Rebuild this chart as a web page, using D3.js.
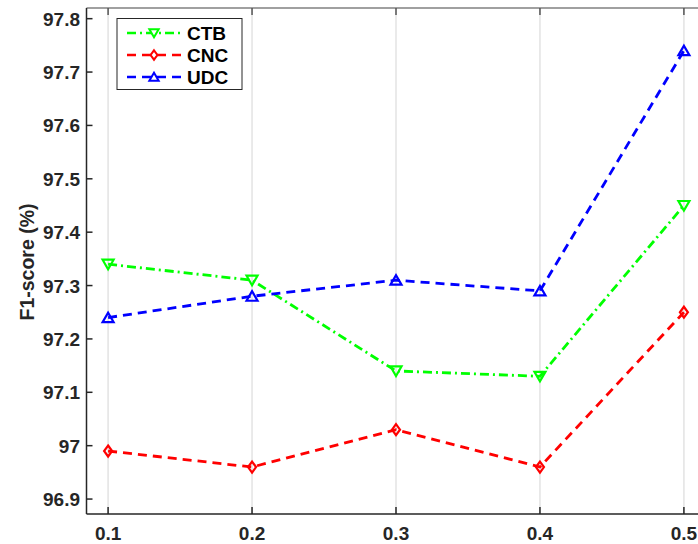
<!DOCTYPE html>
<html>
<head>
<meta charset="utf-8">
<script src="https://cdn.jsdelivr.net/npm/d3@7"></script>
<style>
body { margin: 0; background: #fff; }
text { font-family: Arial, "Liberation Sans", sans-serif; }
</style>
</head>
<body>
<div id="chart"></div>
<script>
// values
var xVals = [0.1, 0.2, 0.3, 0.4, 0.5]
var ctb = [97.34, 97.31, 97.14, 97.13, 97.45]
var cnc = [96.99, 96.96, 97.03, 96.96, 97.25]
var udc = [97.24, 97.28, 97.31, 97.29, 97.74]
var yTicks = [96.9, 97, 97.1, 97.2, 97.3, 97.4, 97.5, 97.6, 97.7, 97.8]
var seriesNames = ["CTB", "CNC", "UDC"]

var width = 698, height = 544
var pLeft = 86.5, pTop = 8, pRight = 705.5, pBottom = 514

var svg = d3.select("#chart").append("svg")
  .attr("width", width)
  .attr("height", height)

var x = d3.scaleLinear().domain([0.085, 0.515]).range([pLeft, pRight])
var y = d3.scaleLinear().domain([96.872, 97.82]).range([pBottom, pTop])

// vertical grid
svg.selectAll(".grid")
  .data(xVals)
  .join("line")
  .attr("x1", d => x(d)).attr("x2", d => x(d))
  .attr("y1", pTop).attr("y2", pBottom)
  .attr("stroke", "#e3e3e3")
  .attr("stroke-width", 1.5)

// axes box
svg.append("line").attr("x1", pLeft).attr("x2", pRight).attr("y1", pTop).attr("y2", pTop)
  .attr("stroke", "#808080").attr("stroke-width", 1.5)
svg.append("line").attr("x1", pLeft).attr("x2", pRight).attr("y1", pBottom).attr("y2", pBottom)
  .attr("stroke", "#262626").attr("stroke-width", 1.5)
svg.append("line").attr("x1", pLeft).attr("x2", pLeft).attr("y1", pTop).attr("y2", pBottom)
  .attr("stroke", "#262626").attr("stroke-width", 1.5)

// ticks (inward) top and bottom
svg.selectAll(".xtickB").data(xVals).join("line")
  .attr("x1", d => x(d)).attr("x2", d => x(d))
  .attr("y1", pBottom).attr("y2", pBottom - 7)
  .attr("stroke", "#262626").attr("stroke-width", 1.5)
svg.selectAll(".xtickT").data(xVals).join("line")
  .attr("x1", d => x(d)).attr("x2", d => x(d))
  .attr("y1", pTop).attr("y2", pTop + 7)
  .attr("stroke", "#555").attr("stroke-width", 1.5)
svg.selectAll(".ytick").data(yTicks).join("line")
  .attr("x1", pLeft).attr("x2", pLeft + 6)
  .attr("y1", d => y(d)).attr("y2", d => y(d))
  .attr("stroke", "#262626").attr("stroke-width", 1.5)

// tick labels
svg.selectAll(".xlab").data(xVals).join("text")
  .attr("x", d => x(d)).attr("y", 540)
  .attr("text-anchor", "middle")
  .style("font-size", "19px").style("font-weight", "bold")
  .attr("fill", "#262626")
  .text(d => d3.format(".1f")(d))
svg.selectAll(".ylab").data(yTicks).join("text")
  .attr("x", 80).attr("y", d => y(d) + 7)
  .attr("text-anchor", "end")
  .style("font-size", "19px").style("font-weight", "bold")
  .attr("fill", "#262626")
  .text(d => d === 97 ? "97" : d3.format(".1f")(d))

svg.append("text")
  .attr("transform", "translate(34,262) rotate(-90)")
  .attr("text-anchor", "middle")
  .style("font-size", "19.5px").style("font-weight", "bold")
  .attr("fill", "#262626")
  .text("F1-score (%)")

var styles = {
  CTB: {data: ctb, color: "#00ff00", dash: "9,4,2,4", marker: "down"},
  CNC: {data: cnc, color: "#ff0000", dash: "9,6", marker: "diamond"},
  UDC: {data: udc, color: "#0000ff", dash: "9,6", marker: "up"}
}

function markerPath(type, cx, cy, k) {
  k = k || 1
  if (type == "down") return "M" + (cx - 5.5 * k) + "," + (cy - 4.5 * k) + "L" + (cx + 5.5 * k) + "," + (cy - 4.5 * k) + "L" + cx + "," + (cy + 5 * k) + "Z"
  if (type == "up") return "M" + (cx - 5.5 * k) + "," + (cy + 4.5 * k) + "L" + (cx + 5.5 * k) + "," + (cy + 4.5 * k) + "L" + cx + "," + (cy - 5 * k) + "Z"
  return "M" + cx + "," + (cy - 5.5 * k) + "L" + (cx + 4 * k) + "," + cy + "L" + cx + "," + (cy + 5.5 * k) + "L" + (cx - 4 * k) + "," + cy + "Z"
}

var line = d3.line().x((d, i) => x(xVals[i])).y(d => y(d))

seriesNames.forEach(function(name) {
  var s = styles[name]
  svg.append("path")
    .attr("d", line(s.data))
    .attr("fill", "none")
    .attr("stroke", s.color)
    .attr("stroke-width", 2.8)
    .attr("stroke-dasharray", s.dash)
  svg.selectAll(".m" + name).data(s.data).join("path")
    .attr("d", (d, i) => markerPath(s.marker, x(xVals[i]), y(d)))
    .attr("fill", "none")
    .attr("stroke", s.color)
    .attr("stroke-width", 2.2)
})

// legend
var lg = svg.append("g")
lg.append("rect")
  .attr("x", 117).attr("y", 18.5).attr("width", 125).attr("height", 71)
  .attr("fill", "#fff").attr("stroke", "#262626").attr("stroke-width", 1)
seriesNames.forEach(function(name, i) {
  var s = styles[name]
  var ly = 33 + i * 22
  lg.append("line")
    .attr("x1", 127).attr("x2", 181).attr("y1", ly).attr("y2", ly)
    .attr("stroke", s.color).attr("stroke-width", 2.5)
    .attr("stroke-dasharray", s.dash)
  lg.append("path")
    .attr("d", markerPath(s.marker, 154, ly, 0.85))
    .attr("fill", "#fff").attr("stroke", s.color).attr("stroke-width", 2)
  lg.append("text")
    .attr("x", 187).attr("y", ly + 7)
    .style("font-size", "19px").style("font-weight", "bold")
    .attr("fill", "#000")
    .text(name)
})
</script>
</body>
</html>
